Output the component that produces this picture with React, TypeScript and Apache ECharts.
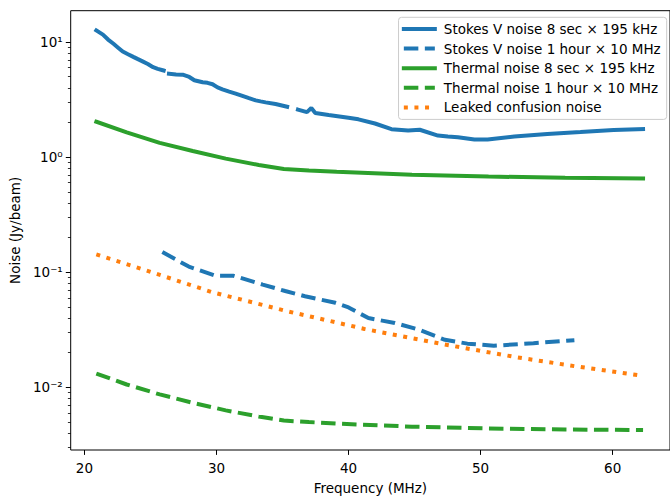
import React, { useEffect, useRef } from "react";
import * as echarts from "echarts";

const FONT = '"DejaVu Sans", "Liberation Sans", sans-serif';
const FS = 13.5;

// Stokes V noise, 8 sec x 195 kHz (null = gap in the measured curve)
const stokes8sFreq = [20.9, 21.4, 21.79, 22.2, 22.55, 22.9, 23.3, 23.7, 24.05, 24.4, 24.8, 25.2, 25.55, 26.0, 26.2, 26.4, 26.94, 27.44, 27.94, 28.32, 28.95, 29.32, 29.7, 30.08, 30.45, 30.96, 31.45, 31.96, 32.46, 32.97, 33.34, 33.72, 34.47, 35.35, 35.75, 36.17, 36.85, 37.18, 37.48, 38.49, 39.99, 40.75, 42.0, 43.25, 44.51, 45.39, 46.77, 47.52, 48.28, 49.53, 50.53, 52.55, 55.05, 57.56, 60.07, 62.3];
const stokes8sNoise = [12.6, 11.6, 10.5, 9.65, 8.93, 8.26, 7.83, 7.43, 7.10, 6.79, 6.44, 6.04, 5.84, 5.65, null, 5.30, 5.23, 5.20, 4.97, 4.65, 4.47, 4.42, 4.30, 4.03, 3.88, 3.71, 3.56, 3.40, 3.25, 3.11, 3.05, 2.99, 2.89, 2.74, null, 2.59, 2.46, 2.67, 2.42, 2.32, 2.20, 2.13, 1.96, 1.75, 1.70, 1.73, 1.54, 1.51, 1.49, 1.42, 1.42, 1.51, 1.59, 1.65, 1.72, 1.75];

// Stokes V noise, 1 hour x 10 MHz
const stokes1hFreq = [25.9, 27.9, 29.95, 31.3, 33.5, 35.2, 36.7, 39.0, 40.0, 41.5, 43.5, 45.3, 47.3, 49.0, 51.0, 54.0, 57.1];
const stokes1hNoise = [0.150, 0.112, 0.0932, 0.0932, 0.0782, 0.0687, 0.0619, 0.0543, 0.0495, 0.0400, 0.0363, 0.0318, 0.0259, 0.0240, 0.0230, 0.0242, 0.0257];

// Thermal noise curves
const thermalFreq = [20.9, 23.2, 25.7, 28.2, 30.7, 33.2, 35.1, 37.0, 39.1, 44.8, 50.6, 56.4, 62.3];
const thermal8sNoise = [2.03, 1.64, 1.33, 1.13, 0.97, 0.855, 0.79, 0.765, 0.745, 0.702, 0.678, 0.663, 0.654];
const thermal1hNoise = [0.0132, 0.0106, 0.0087, 0.00735, 0.00632, 0.00558, 0.00515, 0.0050, 0.00485, 0.00456, 0.0044, 0.00431, 0.00426];

// Leaked confusion noise
const confusionFreq = [20.9, 23.9, 29.7, 35.5, 41.2, 47.0, 52.7, 57.1, 62.3];
const confusionNoise = [0.143, 0.111, 0.067, 0.0455, 0.0322, 0.0239, 0.0183, 0.0153, 0.0126];

const seriesNames = [
  "Stokes V noise 8 sec × 195 kHz",
  "Stokes V noise 1 hour × 10 MHz",
  "Thermal noise 8 sec × 195 kHz",
  "Thermal noise 1 hour × 10 MHz",
  "Leaked confusion noise",
];

const xTicks = [20, 30, 40, 50, 60];
const yMajorTicks = [0.01, 0.1, 1, 10];
const yMinorTicks = [0.003, 0.004, 0.005, 0.006, 0.007, 0.008, 0.009, 0.02, 0.03, 0.04, 0.05, 0.06, 0.07, 0.08, 0.09, 0.2, 0.3, 0.4, 0.5, 0.6, 0.7, 0.8, 0.9, 2, 3, 4, 5, 6, 7, 8, 9];

const BLUE = "#1f77b4";
const GREEN = "#2ca02c";
const ORANGE = "#ff7f0e";
const DASH = [14.5, 6.5];
const DOT = [4, 6.6];

const SUP: Record<string, string> = { "-": "⁻", "0": "⁰", "1": "¹", "2": "²", "3": "³" };

function pairs(xs: number[], ys: (number | null)[]) {
  return xs.map((x, i) => [x, ys[i] === null ? "-" : ys[i]]);
}

const styles = [
  { color: BLUE, type: "solid", cap: "square" },
  { color: BLUE, type: DASH, cap: "butt" },
  { color: GREEN, type: "solid", cap: "square" },
  { color: GREEN, type: DASH, cap: "butt" },
  { color: ORANGE, type: DOT, cap: "butt" },
];

function line(i: number, data: any[]) {
  const s = styles[i];
  return {
    name: seriesNames[i],
    type: "line",
    data,
    showSymbol: false,
    symbol: "none",
    connectNulls: false,
    yAxisIndex: 0,
    lineStyle: { color: s.color, width: 4, type: s.type, cap: s.cap },
    itemStyle: { color: s.color },
    emphasis: { disabled: true },
  };
}

export default function App() {
  const ref = useRef<HTMLDivElement>(null);
  useEffect(() => {
    const chart = echarts.init(ref.current!, null, { renderer: "svg" });
    const tickStyle = { color: "#000", width: 1 };
    const yCommon = {
      type: "log",
      logBase: 10,
      min: 0.00286,
      max: 18.7,
      position: "left",
      splitLine: { show: false },
      axisLine: { show: false },
    };
    chart.setOption({
      animation: false,
      backgroundColor: "#fff",
      textStyle: { fontFamily: FONT },
      grid: {
        left: 70.7,
        top: 10.7,
        right: -3.3,
        bottom: 39.5,
        show: true,
        borderColor: "#000",
        borderWidth: 1,
        backgroundColor: "transparent",
      },
      legend: {
        orient: "vertical",
        right: 3.3,
        top: 17.3,
        padding: [4.7, 6, 5, 3.3],
        itemWidth: 31,
        itemHeight: 14,
        itemGap: 5.6,
        backgroundColor: "rgba(255,255,255,0.8)",
        borderColor: "#cccccc",
        borderWidth: 1,
        borderRadius: 3,
        textStyle: { fontFamily: FONT, fontSize: FS, color: "#000", padding: [0, 0, 0, 4] },
        data: seriesNames.map((name, i) => ({
          name,
          itemStyle: { opacity: 0, color: "transparent", borderWidth: 0 },
          lineStyle: { color: styles[i].color, width: 4, type: styles[i].type, cap: styles[i].cap, opacity: 1 },
        })),
      },
      xAxis: {
        type: "value",
        min: 18.96,
        max: 64.34,
        name: "Frequency (MHz)",
        nameLocation: "middle",
        nameGap: 31,
        nameTextStyle: { fontFamily: FONT, fontSize: FS, color: "#000" },
        splitLine: { show: false },
        axisLine: { show: false },
        axisTick: { show: true, length: 4.9, lineStyle: tickStyle, customValues: xTicks },
        axisLabel: {
          customValues: xTicks,
          fontFamily: FONT,
          fontSize: FS,
          color: "#000",
          margin: 11,
        },
      },
      yAxis: [
        {
          ...yCommon,
          name: "Noise (Jy/beam)",
          nameLocation: "middle",
          nameGap: 46,
          nameRotate: 90,
          nameTextStyle: { fontFamily: FONT, fontSize: FS, color: "#000" },
          axisTick: { show: true, length: 4.9, lineStyle: tickStyle, customValues: yMajorTicks },
          axisLabel: {
            customValues: yMajorTicks,
            fontFamily: FONT,
            fontSize: FS,
            color: "#000",
            margin: 8,
            formatter: (v: number) => {
              const e = String(Math.round(Math.log10(v)));
              return "10" + e.split("").map((c) => SUP[c] ?? c).join("");
            },
          },
        },
        {
          ...yCommon,
          axisTick: { show: true, length: 2.8, lineStyle: { color: "#000", width: 0.8 }, customValues: yMinorTicks },
          axisLabel: { show: false },
        },
      ],
      series: [
        line(0, pairs(stokes8sFreq, stokes8sNoise)),
        line(1, pairs(stokes1hFreq, stokes1hNoise)),
        line(2, pairs(thermalFreq, thermal8sNoise)),
        line(3, pairs(thermalFreq, thermal1hNoise)),
        line(4, pairs(confusionFreq, confusionNoise)),
      ],
    });
    return () => chart.dispose();
  }, []);
  return (
    <div
      ref={ref}
      style={{ position: "absolute", left: 0, top: 0, width: 670, height: 500, background: "#fff" }}
    />
  );
}
